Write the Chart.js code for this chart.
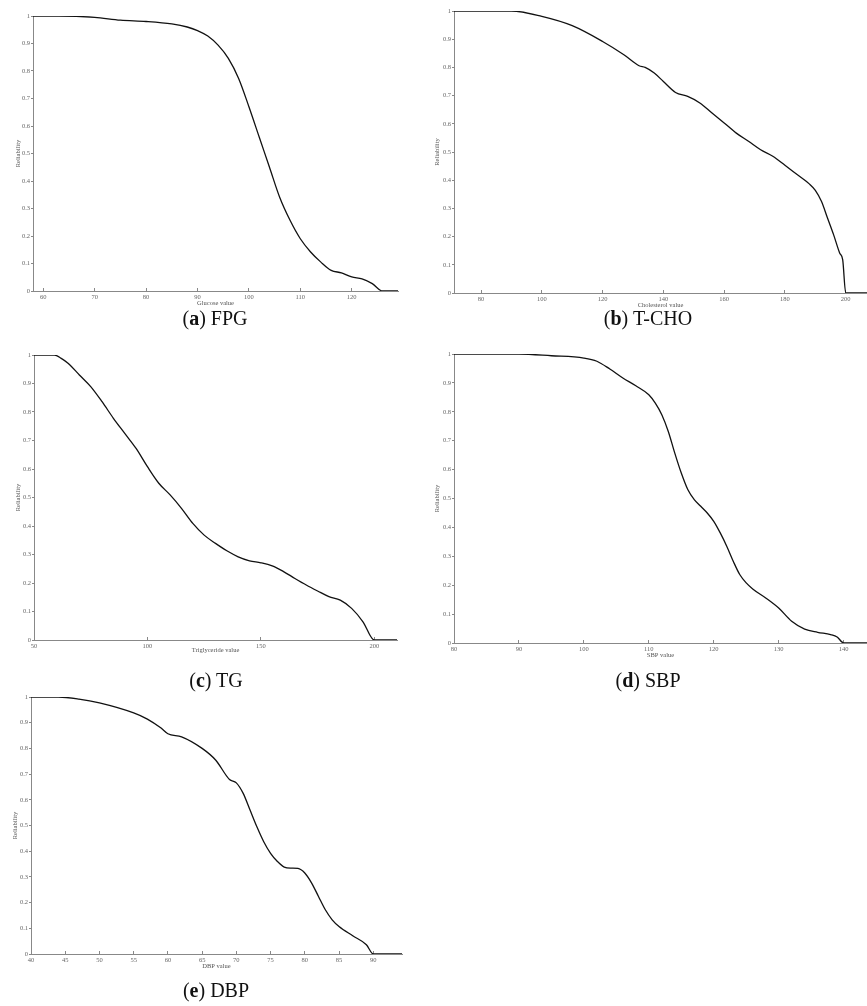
<!DOCTYPE html>
<html>
<head>
<meta charset="utf-8">
<script src="https://cdn.jsdelivr.net/npm/chart.js@4.4.1/dist/chart.umd.min.js"></script>
<style>
  body { margin: 0; background: #fff; }
  #page { position: relative; width: 867px; height: 1006px; }
  canvas { position: absolute; }
  .caption {
    position: absolute; text-align: center;
    font-family: "Liberation Serif", serif; font-size: 20px; color: #111;
    line-height: 24px; height: 24px;
  }
</style>
</head>
<body>
<div id="page"></div>
<script>
// datos (curvas de fiabilidad)
const yTicks = [0, 0.1, 0.2, 0.3, 0.4, 0.5, 0.6, 0.7, 0.8, 0.9, 1];

const fpgX = [58, 63, 70, 75, 80, 85, 88, 90, 92, 94, 96, 98, 100, 102, 104, 106, 108, 110, 112, 114, 116, 118, 120, 122, 124, 126, 129];
const fpgY = [1, 1, 0.995, 0.985, 0.98, 0.971, 0.96, 0.947, 0.927, 0.894, 0.846, 0.773, 0.67, 0.56, 0.45, 0.34, 0.257, 0.19, 0.142, 0.105, 0.075, 0.066, 0.051, 0.044, 0.027, 0, 0];
const fpgTicks = [60, 70, 80, 90, 100, 110, 120];

const tchoX = [71, 90, 100, 110, 120, 127, 132, 134, 137, 140, 144, 148, 152, 156, 160, 164, 168, 172, 176, 180, 184, 188, 190, 192, 194, 196, 198, 199, 200, 207];
const tchoY = [1, 1, 0.981, 0.948, 0.892, 0.845, 0.806, 0.8, 0.78, 0.75, 0.711, 0.697, 0.674, 0.638, 0.603, 0.567, 0.538, 0.508, 0.485, 0.453, 0.42, 0.387, 0.364, 0.325, 0.266, 0.207, 0.142, 0.118, 0, 0];
const tchoTicks = [80, 100, 120, 140, 160, 180, 200];

const tgX = [50, 59, 62, 65, 70, 75, 80, 85, 90, 95, 100, 105, 110, 115, 120, 125, 130, 135, 140, 145, 150, 155, 160, 165, 170, 175, 180, 185, 190, 195, 200, 210];
const tgY = [1, 1, 0.988, 0.971, 0.93, 0.889, 0.836, 0.778, 0.725, 0.672, 0.608, 0.55, 0.509, 0.462, 0.409, 0.368, 0.339, 0.313, 0.292, 0.278, 0.271, 0.26, 0.24, 0.216, 0.193, 0.172, 0.152, 0.14, 0.111, 0.064, 0, 0];
const tgTicks = [50, 100, 150, 200];

const sbpX = [80, 90, 95, 100, 102, 104, 106, 108, 110, 111, 112, 113, 114, 115, 116, 117, 118, 119, 120, 121, 122, 123, 124, 125, 126, 128, 130, 132, 134, 136, 138, 139, 140, 143.6];
const sbpY = [1, 1, 0.994, 0.986, 0.975, 0.948, 0.917, 0.89, 0.859, 0.83, 0.79, 0.732, 0.657, 0.588, 0.531, 0.496, 0.473, 0.45, 0.421, 0.381, 0.335, 0.283, 0.237, 0.208, 0.187, 0.156, 0.121, 0.075, 0.048, 0.037, 0.029, 0.021, 0, 0];
const sbpTicks = [80, 90, 100, 110, 120, 130, 140];

const dbpX = [40, 44, 47, 50, 55, 57, 59, 60, 62, 65, 67, 69, 70, 71, 72, 73, 74, 75, 76, 77, 78, 79, 80, 81, 82, 83, 84, 85, 87, 89, 90, 94.2];
const dbpY = [1, 1, 0.992, 0.977, 0.938, 0.914, 0.879, 0.857, 0.845, 0.8, 0.754, 0.679, 0.666, 0.625, 0.56, 0.495, 0.437, 0.392, 0.36, 0.338, 0.334, 0.333, 0.315, 0.276, 0.224, 0.172, 0.133, 0.107, 0.071, 0.036, 0, 0];
const dbpTicks = [40, 45, 50, 55, 60, 65, 70, 75, 80, 85, 90];

// un panel por variable
const paneles = [
  { xs: fpgX, ys: fpgY, ticks: fpgTicks, xLabel: 'Glucose value', letra: 'a', nombre: 'FPG',
    box: [0, 0, 430, 312], pad: [16, 32], yW: 33, xH: 21, yTP: 14, xTP: 5, min: 58, max: 129, cap: [215, 318] },
  { xs: tchoX, ys: tchoY, ticks: tchoTicks, xLabel: 'Cholesterol value', letra: 'b', nombre: 'T-CHO',
    box: [430, 0, 437, 312], pad: [11, 0], yW: 24, xH: 19, yTP: 3, xTP: 3, min: 71.1, max: 207, cap: [648, 318] },
  { xs: tgX, ys: tgY, ticks: tgTicks, xLabel: 'Triglyceride value', letra: 'c', nombre: 'TG',
    box: [0, 330, 430, 330], pad: [25, 33], yW: 34, xH: 20, yTP: 14, xTP: 6, min: 50, max: 210, cap: [216, 680] },
  { xs: sbpX, ys: sbpY, ticks: sbpTicks, xLabel: 'SBP value', letra: 'd', nombre: 'SBP',
    box: [430, 330, 437, 330], pad: [24, 0], yW: 24, xH: 17, yTP: 3, xTP: 1, min: 80, max: 143.6, cap: [648, 680] },
  { xs: dbpX, ys: dbpY, ticks: dbpTicks, xLabel: 'DBP value', letra: 'e', nombre: 'DBP',
    box: [0, 660, 430, 316], pad: [37, 28], yW: 31, xH: 22, yTP: 11, xTP: 6, min: 40, max: 94.2, cap: [216, 990] }
];

const fuente = { family: '"Liberation Serif", serif', size: 6.5 };
const gris = '#888';
const page = document.getElementById('page');

paneles.forEach(p => {
  const cv = document.createElement('canvas');
  cv.width = p.box[2];
  cv.height = p.box[3];
  cv.style.left = p.box[0] + 'px';
  cv.style.top = p.box[1] + 'px';
  page.appendChild(cv);

  const cap = document.createElement('div');
  cap.className = 'caption';
  cap.style.left = (p.cap[0] - 100) + 'px';
  cap.style.width = '200px';
  cap.style.top = (p.cap[1] - 12) + 'px';
  cap.innerHTML = '(<b>' + p.letra + '</b>) ' + p.nombre;
  page.appendChild(cap);

  new Chart(cv.getContext('2d'), {
    type: 'line',
    data: {
      datasets: [{
        data: p.xs.map((x, i) => ({ x: x, y: p.ys[i] })),
        borderColor: '#111',
        borderWidth: 1.3,
        pointRadius: 0,
        cubicInterpolationMode: 'monotone',
        fill: false
      }]
    },
    options: {
      responsive: false,
      animation: false,
      events: [],
      layout: { padding: { top: p.pad[0], right: p.pad[1], left: 0, bottom: 0 } },
      plugins: { legend: { display: false }, tooltip: { enabled: false } },
      scales: {
        x: {
          type: 'linear', min: p.min, max: p.max,
          afterBuildTicks: s => { s.ticks = p.ticks.map(v => ({ value: v })); },
          afterFit: s => { s.height = p.xH; },
          border: { color: gris, width: 1 },
          grid: { drawOnChartArea: false, tickLength: -3, color: gris },
          ticks: { font: fuente, color: '#666', padding: 5, maxRotation: 0, callback: v => String(v) },
          title: { display: true, text: p.xLabel, font: fuente, color: '#555', padding: { top: 0, bottom: p.xTP } }
        },
        y: {
          type: 'linear', min: 0, max: 1,
          afterBuildTicks: s => { s.ticks = yTicks.map(v => ({ value: v })); },
          afterFit: s => { s.width = p.yW; },
          border: { color: gris, width: 1 },
          grid: { drawOnChartArea: false, tickLength: 2, color: gris },
          ticks: { font: fuente, color: '#666', padding: 1, callback: v => String(Math.round(v * 10) / 10) },
          title: { display: true, text: 'Reliability', font: fuente, color: '#555', padding: { top: p.yTP, bottom: 0 } }
        }
      }
    }
  });
});
</script>
</body>
</html>
